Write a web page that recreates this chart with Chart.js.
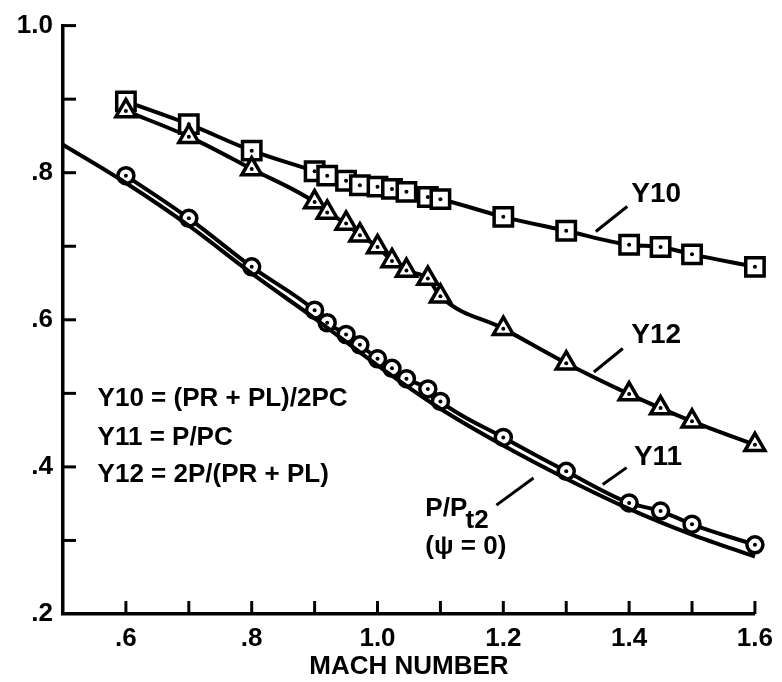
<!DOCTYPE html>
<html>
<head>
<meta charset="utf-8">
<script src="https://cdn.jsdelivr.net/npm/chart.js@4.4.1/dist/chart.umd.min.js"></script>
<style>
  html, body { margin: 0; padding: 0; background: #fff; }
</style>
</head>
<body>
<canvas id="chart" width="782" height="682"></canvas>
<script>
const FONT = "'Liberation Sans', Arial, Helvetica, sans-serif";

// Mach numbers shared by the three measured series
const mach = [0.6, 0.7, 0.8, 0.9, 0.92, 0.95, 0.972, 1.0, 1.023, 1.046, 1.08, 1.1, 1.2, 1.3, 1.4, 1.45, 1.5, 1.6];
const y10 = [0.897, 0.866, 0.830, 0.802, 0.796, 0.789, 0.783, 0.781, 0.778, 0.774, 0.767, 0.764, 0.740, 0.721, 0.702, 0.699, 0.689, 0.672];
const y12 = [0.884, 0.849, 0.805, 0.760, 0.746, 0.731, 0.715, 0.699, 0.680, 0.667, 0.656, 0.632, 0.588, 0.541, 0.499, 0.480, 0.462, 0.430];
const y11 = [0.796, 0.738, 0.672, 0.613, 0.596, 0.580, 0.566, 0.547, 0.534, 0.520, 0.506, 0.489, 0.440, 0.394, 0.351, 0.340, 0.322, 0.294];

// theoretical P/Pt2 (psi = 0)
const theoryMach = [0.5, 0.6, 0.7, 0.8, 0.9, 1.0, 1.1, 1.2, 1.3, 1.4, 1.5, 1.6];
const theoryP = [0.838, 0.786, 0.728, 0.663, 0.602, 0.538, 0.479, 0.429, 0.384, 0.343, 0.308, 0.278];

const xTickValues = [0.6, 0.8, 1.0, 1.2, 1.4, 1.6];
const xTickText = ['.6', '.8', '1.0', '1.2', '1.4', '1.6'];
const yTickValues = [0.2, 0.4, 0.6, 0.8, 1.0];
const yTickText = ['.2', '.4', '.6', '.8', '1.0'];

const toPoints = (xs, ys) => xs.map((x, i) => ({ x, y: ys[i] }));

function tickLabel(values, texts) {
  return v => {
    const i = values.findIndex(t => Math.abs(t - v) < 1e-6);
    return i < 0 ? '' : texts[i];
  };
}

// tick marks drawn inward from the axes
const inwardTicks = {
  id: 'inwardTicks',
  afterDraw(chart) {
    const { ctx, scales: { x, y } } = chart;
    const area = chart.chartArea;
    ctx.save();
    ctx.strokeStyle = '#000';
    ctx.lineWidth = 3;
    x.ticks.forEach(t => {
      const px = x.getPixelForValue(t.value);
      if (px <= area.left + 2) return;
      ctx.beginPath();
      ctx.moveTo(px, area.bottom);
      ctx.lineTo(px, area.bottom - 13);
      ctx.stroke();
    });
    y.ticks.forEach(t => {
      const py = y.getPixelForValue(t.value);
      if (py >= area.bottom - 2) return;
      ctx.beginPath();
      ctx.moveTo(area.left, py);
      ctx.lineTo(area.left + 13, py);
      ctx.stroke();
    });
    ctx.restore();
  }
};

// small dot in the centre of each symbol
const centerDots = {
  id: 'centerDots',
  afterDatasetsDraw(chart) {
    const { ctx } = chart;
    ctx.save();
    ctx.fillStyle = '#000';
    chart.data.datasets.forEach((ds, i) => {
      if (!ds.dots) return;
      chart.getDatasetMeta(i).data.forEach(el => {
        ctx.beginPath();
        ctx.arc(el.x, el.y, 2, 0, Math.PI * 2);
        ctx.fill();
      });
    });
    ctx.restore();
  }
};

// curve names, leader lines and the definitions
const labels = [
  { text: 'Y10', x: 1.443, y: 0.760, align: 'center', size: 28 },
  { text: 'Y12', x: 1.443, y: 0.569, align: 'center', size: 28 },
  { text: 'Y11', x: 1.446, y: 0.403, align: 'center', size: 28 },
  { text: 'Y10 = (PR + PL)/2PC', x: 0.555, y: 0.483, align: 'left', size: 26 },
  { text: 'Y11 = P/PC', x: 0.555, y: 0.430, align: 'left', size: 26 },
  { text: 'Y12 = 2P/(PR + PL)', x: 0.555, y: 0.379, align: 'left', size: 26 },
  { text: 'P/P', x: 1.076, y: 0.333, align: 'left', size: 26 },
  { text: 't2', x: 1.140, y: 0.317, align: 'left', size: 26 },
  { text: '(\u03c8 = 0)', x: 1.076, y: 0.282, align: 'left', size: 26 }
];
const leaders = [
  [1.347, 0.720, 1.397, 0.754],
  [1.344, 0.529, 1.390, 0.561],
  [1.358, 0.376, 1.396, 0.399],
  [1.189, 0.348, 1.248, 0.385]
];

const annotations = {
  id: 'annotations',
  afterDraw(chart) {
    const { ctx, scales: { x, y } } = chart;
    ctx.save();
    ctx.fillStyle = '#000';
    ctx.strokeStyle = '#000';
    ctx.lineWidth = 3;
    ctx.textBaseline = 'alphabetic';
    labels.forEach(l => {
      ctx.font = `bold ${l.size}px ${FONT}`;
      ctx.textAlign = l.align;
      ctx.fillText(l.text, x.getPixelForValue(l.x), y.getPixelForValue(l.y));
    });
    leaders.forEach(([x1, y1, x2, y2]) => {
      ctx.beginPath();
      ctx.moveTo(x.getPixelForValue(x1), y.getPixelForValue(y1));
      ctx.lineTo(x.getPixelForValue(x2), y.getPixelForValue(y2));
      ctx.stroke();
    });
    ctx.restore();
  }
};

const common = {
  borderColor: '#000',
  backgroundColor: '#fff',
  pointBorderColor: '#000',
  pointBackgroundColor: '#fff',
  borderWidth: 4,
  pointBorderWidth: 3.5,
  cubicInterpolationMode: 'monotone',
  clip: false
};

new Chart(document.getElementById('chart'), {
  type: 'scatter',
  data: {
    datasets: [
      {
        ...common,
        label: 'P/Pt2',
        data: toPoints(theoryMach, theoryP),
        showLine: true,
        pointRadius: 0
      },
      {
        ...common,
        label: 'Y11',
        data: toPoints(mach, y11),
        showLine: true,
        pointStyle: 'circle',
        pointRadius: 8,
        dots: true
      },
      {
        ...common,
        label: 'Y12',
        data: toPoints(mach, y12),
        showLine: true,
        pointStyle: 'triangle',
        pointRadius: 11.5,
        dots: true
      },
      {
        ...common,
        label: 'Y10',
        data: toPoints(mach, y10),
        showLine: true,
        pointStyle: 'rect',
        pointRadius: 13,
        dots: true
      }
    ]
  },
  options: {
    responsive: false,
    animation: false,
    layout: { padding: { top: 20, right: 22, bottom: 0, left: 0 } },
    plugins: {
      legend: { display: false },
      tooltip: { enabled: false }
    },
    scales: {
      x: {
        type: 'linear',
        min: 0.5,
        max: 1.6,
        afterFit: s => { s.height = 68; },
        grid: { display: false, drawTicks: false },
        border: { display: true, color: '#000', width: 3.5 },
        ticks: {
          stepSize: 0.1,
          autoSkip: false,
          maxRotation: 0,
          padding: 9,
          color: '#000',
          font: { family: FONT, size: 26, weight: 'bold' },
          callback: tickLabel(xTickValues, xTickText)
        },
        title: {
          display: true,
          text: 'MACH NUMBER',
          color: '#000',
          padding: { top: 0, bottom: 0 },
          font: { family: FONT, size: 26, weight: 'bold' }
        }
      },
      y: {
        min: 0.2,
        max: 1.0,
        afterFit: s => { s.width = 63; },
        grid: { display: false, drawTicks: false },
        border: { display: true, color: '#000', width: 3.5 },
        ticks: {
          stepSize: 0.1,
          autoSkip: false,
          padding: 10,
          color: '#000',
          font: { family: FONT, size: 26, weight: 'bold' },
          callback: tickLabel(yTickValues, yTickText)
        }
      }
    }
  },
  plugins: [inwardTicks, centerDots, annotations]
});
</script>
</body>
</html>
